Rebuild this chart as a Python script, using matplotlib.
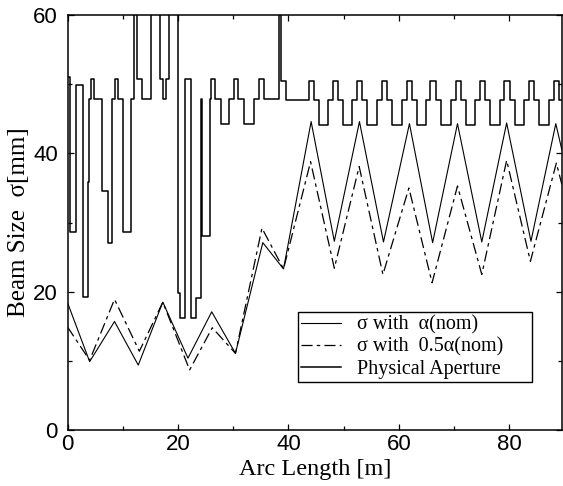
import matplotlib
matplotlib.use("Agg")
import matplotlib.pyplot as plt
from matplotlib.ticker import MultipleLocator

# ---------------- data ----------------
# beam size, sigma with alpha(nom)
s_nom_x = [0.0, 4.0, 8.5, 12.8, 17.25, 21.8, 26.1, 30.4, 35.35, 39.1,
           44.1, 48.3, 52.85, 57.2, 61.9, 66.1, 70.6, 75.0, 79.5, 83.9, 88.4, 89.5]
s_nom_y = [18.4, 9.9, 15.7, 9.4, 18.5, 10.4, 17.1, 11.1, 27.1, 23.3,
           44.6, 27.3, 44.6, 27.2, 44.3, 27.1, 44.3, 27.2, 44.4, 27.3, 44.3, 40.5]

# beam size, sigma with 0.5 alpha(nom)
s_half_x = [0.0, 4.0, 8.5, 13.0, 17.25, 22.1, 26.2, 30.4, 35.2, 39.1,
            44.0, 48.3, 52.8, 57.1, 61.8, 66.0, 70.6, 75.0, 79.5, 83.8, 88.5, 89.5]
s_half_y = [14.9, 10.1, 18.9, 11.4, 18.5, 8.7, 14.8, 11.1, 29.2, 23.3,
            38.8, 23.4, 38.1, 22.5, 35.0, 21.3, 35.3, 22.5, 39.0, 24.4, 38.6, 35.5]

# physical aperture (step function: level holds from each x to the next)
ap_x = [0.0, 0.5, 1.45, 2.84, 3.74, 3.9, 4.2, 4.83, 6.15, 7.36,
        8.08, 8.57, 9.17, 9.95, 11.46, 12.1, 12.6, 13.5, 15.1, 16.8,
        17.3, 17.9, 18.3, 20.0, 20.3, 21.3, 22.4, 23.3, 24.1, 24.4,
        25.7, 26.0, 26.7, 27.8, 29.3, 30.2, 30.9, 32.0, 33.7, 34.7,
        35.6, 38.2, 38.7, 39.5, 43.7, 44.7, 45.5,
        47.15, 48.0, 49.0, 49.85,
        51.55, 52.4, 53.4, 54.25,
        56.05, 56.9, 57.9, 58.75,
        60.55, 61.4, 62.4, 63.25,
        64.85, 65.7, 66.7, 67.55,
        69.45, 70.3, 71.3, 72.15,
        73.75, 74.6, 75.6, 76.45,
        78.25, 79.1, 80.1, 80.95,
        82.65, 83.5, 84.5, 85.35,
        87.15, 88.0, 89.0, 89.5]
ap_y = [51.0, 28.6, 49.9, 19.3, 35.8, 47.8, 50.7, 47.8, 34.5, 27.1,
        47.8, 50.7, 47.8, 28.6, 47.8, 65.0, 50.7, 47.8, 65.0, 50.7,
        47.8, 50.7, 65.0, 19.8, 16.2, 50.7, 16.2, 19.1, 47.8, 28.0,
        47.8, 50.7, 47.8, 44.2, 47.8, 50.7, 47.8, 44.2, 47.8, 50.7,
        47.8, 65.0, 50.4, 47.7, 50.4, 47.7, 44.1,
        47.7, 50.4, 47.7, 44.1,
        47.7, 50.4, 47.7, 44.1,
        47.7, 50.4, 47.7, 44.1,
        47.7, 50.4, 47.7, 44.1,
        47.7, 50.4, 47.7, 44.1,
        47.7, 50.4, 47.7, 44.1,
        47.7, 50.4, 47.7, 44.1,
        47.7, 50.4, 47.7, 44.1,
        47.7, 50.4, 47.7, 44.1,
        47.7, 50.4, 47.7, 47.7]

labels = ["σ with  α(nom)", "σ with  0.5α(nom)", "Physical Aperture"]
x_label = "Arc Length [m]"
y_label = "Beam Size  σ[mm]"

# ---------------- figure ----------------
plt.rcParams['lines.scale_dashes'] = False
fig = plt.figure(figsize=(5.63, 4.86), dpi=100)
ax = fig.add_axes([0.120, 0.115, 0.878, 0.854])

serif = ['Liberation Serif', 'DejaVu Serif']
sans = ['Liberation Sans', 'DejaVu Sans']

ax.plot(s_nom_x, s_nom_y, color='black', lw=0.8, label=labels[0])
ax.plot(s_half_x, s_half_y, color='black', lw=0.9,
        linestyle=(0, (8, 3, 2.5, 3)), label=labels[1])
ax.step(ap_x, ap_y, where='post', color='black', lw=1.1, label=labels[2])

ax.set_xlim(0, 89.5)
ax.set_ylim(0, 60)

ax.xaxis.set_major_locator(MultipleLocator(20))
ax.xaxis.set_minor_locator(MultipleLocator(10))
ax.yaxis.set_major_locator(MultipleLocator(20))
ax.yaxis.set_minor_locator(MultipleLocator(10))
ax.tick_params(which='both', direction='in', top=True, right=True, width=0.9)
ax.tick_params(which='major', length=4)
ax.tick_params(which='minor', length=3)
ax.tick_params(axis='x', which='major', pad=3)
ax.tick_params(axis='y', which='major', pad=7)

for lab in ax.get_xticklabels() + ax.get_yticklabels():
    lab.set_family(sans)
    lab.set_fontsize(16)

for sp in ax.spines.values():
    sp.set_linewidth(1.1)

ax.set_xlabel(x_label, family=serif, fontsize=17.5, labelpad=3)
ax.set_ylabel(y_label, family=serif, fontsize=18, labelpad=2)

leg = ax.legend(loc='lower left', bbox_to_anchor=(0.466, 0.116, 0.474, 0.166),
                mode='expand',
                prop={'family': serif, 'size': 14.5}, frameon=True,
                fancybox=False, framealpha=1, edgecolor='black',
                handlelength=2.0, handletextpad=0.8, labelspacing=0.15,
                borderpad=0.15, borderaxespad=0)
leg.get_frame().set_linewidth(1.0)

fig.savefig('out.png', dpi=100)
